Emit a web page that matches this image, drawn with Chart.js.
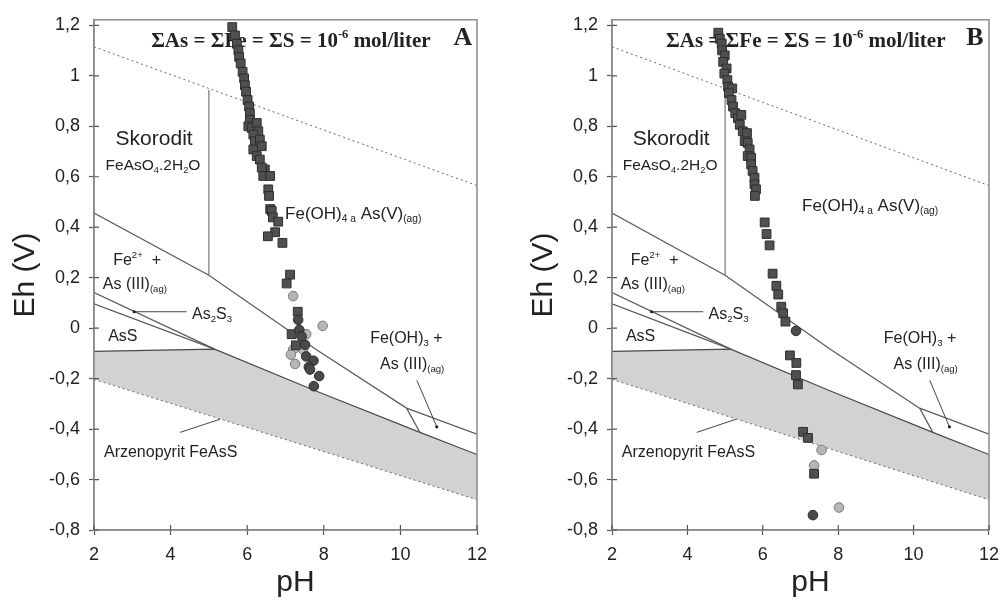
<!DOCTYPE html>
<html>
<head>
<meta charset="utf-8">
<script src="https://cdn.jsdelivr.net/npm/chart.js@4.4.0/dist/chart.umd.min.js"></script>
<style>
  html, body { margin: 0; padding: 0; background: #fff; overflow: hidden; }
  .panel { position: absolute; top: 0; height: 601px; }
  #wrapA { left: 0; width: 500px; }
  #wrapB { left: 518px; width: 490px; }
</style>
</head>
<body>
<div class="panel" id="wrapA"><canvas id="chartA"></canvas></div>
<div class="panel" id="wrapB"><canvas id="chartB"></canvas></div>
<script>
const phTicks = [2, 4, 6, 8, 10, 12];
const ehTicks = [-0.8, -0.6, -0.4, -0.2, 0, 0.2, 0.4, 0.6, 0.8, 1, 1.2];

// field boundaries (pH / Eh in V), same in both panels
const waterTopPh = [2, 12],            waterTopEh = [1.115, 0.565];
const waterBotPh = [2, 12],            waterBotEh = [-0.203, -0.68];
const skoroditPh = [5, 5],             skoroditEh = [0.945, 0.21];
const fe2Ph = [2, 5, 7.8, 10.16],      fe2Eh = [0.456, 0.21, -0.085, -0.317];
const feOH3TopPh = [10.16, 12],        feOH3TopEh = [-0.317, -0.42];
const feOH3SidePh = [10.16, 10.51],    feOH3SideEh = [-0.317, -0.413];
const as2s3TopPh = [2, 5.15],          as2s3TopEh = [0.141, -0.083];
const as2s3BotPh = [2, 5.15],          as2s3BotEh = [0.096, -0.083];
const feassPh = [2, 5.15, 7.73, 10.51, 12];
const feassEh = [-0.092, -0.083, -0.245, -0.413, -0.501];

// leader lines of the labels
const leadAs2s3Ph = [3.05, 4.42],  leadAs2s3Eh = [0.065, 0.065];
const leadFeOH3Ph = [10.43, 10.95], leadFeOH3Eh = [-0.207, -0.391];
const leadFeassPh = [4.25, 5.29],  leadFeassEh = [-0.413, -0.361];

// measured samples, panel A
const sqA_ph = [5.61,5.68,5.73,5.77,5.79,5.83,5.88,5.92,5.94,5.97,6.01,6.05,6.07,6.07,6.03,6.12,6.25,6.29,6.16,6.20,6.33,6.16,6.38,6.25,6.33,6.46,6.38,6.42,6.60,6.55,6.57,6.60,6.64,6.67,6.81,6.73,6.54,6.92,7.12,7.03,7.32,7.16,7.27];
const sqA_eh = [1.193,1.160,1.127,1.101,1.075,1.049,1.016,0.990,0.963,0.937,0.904,0.878,0.852,0.826,0.800,0.793,0.813,0.780,0.767,0.741,0.747,0.708,0.721,0.682,0.668,0.629,0.636,0.603,0.603,0.550,0.524,0.472,0.465,0.439,0.422,0.380,0.364,0.338,0.212,0.177,0.065,-0.024,-0.068];
const darkA_ph = [7.33,7.36,7.42,7.51,7.54,7.73,7.61,7.64,7.88,7.74];
const darkA_eh = [0.033,-0.007,-0.033,-0.066,-0.112,-0.129,-0.154,-0.164,-0.190,-0.230];
const lightA_ph = [7.20,7.97,7.54,7.20,7.14,7.46,7.25];
const lightA_eh = [0.127,0.009,-0.024,-0.085,-0.105,-0.085,-0.142];

// measured samples, panel B
const sqB_ph = [4.82,4.86,4.91,4.92,4.99,4.95,5.04,4.98,5.06,5.08,5.19,5.10,5.17,5.21,5.27,5.34,5.43,5.39,5.47,5.58,5.52,5.60,5.65,5.60,5.69,5.69,5.73,5.78,5.78,5.82,5.79,6.05,6.10,6.18,6.26,6.36,6.41,6.49,6.54,6.60,6.72,6.89,6.88,6.93,7.07,7.20,7.36];
const sqB_eh = [1.171,1.147,1.128,1.101,1.081,1.055,1.029,1.009,0.983,0.957,0.950,0.931,0.904,0.878,0.852,0.832,0.845,0.806,0.780,0.773,0.741,0.734,0.708,0.682,0.675,0.649,0.623,0.596,0.570,0.550,0.524,0.419,0.373,0.328,0.216,0.168,0.133,0.085,0.059,0.026,-0.108,-0.138,-0.186,-0.223,-0.411,-0.435,-0.577];
const darkB_ph = [6.88, 7.33];
const darkB_eh = [-0.011, -0.741];
const lightB_ph = [7.56, 7.36, 8.02];
const lightB_eh = [-0.483, -0.544, -0.711];

const SANS = "'Liberation Sans', Arial, sans-serif";
const SERIF = "'Liberation Serif', 'Times New Roman', serif";
const INK = "#222";

function pts(ph, eh) { return ph.map((p, i) => ({ x: p, y: eh[i] })) }

function fmt(v) { return String(Math.round(v * 10) / 10).replace(".", ",") }

function edge(ph, eh, extra) {
  return Object.assign({
    data: pts(ph, eh), showLine: true, pointRadius: 0, borderColor: "#5a5a5a",
    borderWidth: 1.2, fill: false, order: 5
  }, extra || {});
}

function marks(ph, eh, style, radius, bg, border, order) {
  return {
    data: pts(ph, eh), showLine: false, pointStyle: style, pointRadius: radius,
    backgroundColor: bg, borderColor: border, pointBorderWidth: 1, order
  };
}

function drawRich(ctx, x, y, parts, size, family, weight, align) {
  const fontOf = s => `${weight} ${s}px ${family}`;
  let w = 0;
  const segs = parts.map(([t, m]) => {
    const s = m ? size * 0.6 : size;
    ctx.font = fontOf(s);
    const sw = ctx.measureText(t).width;
    w += sw;
    return { t, m, s, sw };
  });
  let cx = align === "center" ? x - w / 2 : x;
  ctx.textAlign = "left";
  ctx.textBaseline = "middle";
  segs.forEach(sg => {
    ctx.font = fontOf(sg.s);
    const dy = sg.m < 0 ? size * 0.28 : (sg.m > 0 ? -size * 0.3 : 0);
    ctx.fillText(sg.t, cx, y + dy);
    cx += sg.sw;
  });
}

function labelsPlugin(items) {
  return {
    id: "fieldLabels",
    beforeDatasetsDraw(chart) {
      const { ctx, chartArea: a, scales: { x, y } } = chart;
      ctx.save();
      ctx.fillStyle = INK;
      items.forEach(it => drawRich(ctx, x.getPixelForValue(it.ph), y.getPixelForValue(it.eh),
        it.parts, it.size, it.serif ? SERIF : SANS, it.serif ? "bold" : "normal", it.align || "left"));
      ctx.font = `30px ${SANS}`;
      ctx.textAlign = "center";
      ctx.textBaseline = "middle";
      ctx.fillText("pH", (a.left + a.right) / 2 + 10, 583);
      ctx.restore();
    }
  };
}

const framePlugin = {
  id: "frame",
  afterDatasetsDraw(chart) {
    const { ctx, chartArea: a, scales: { x, y } } = chart;
    ctx.save();
    ctx.strokeStyle = "#8a8a8a";
    ctx.lineWidth = 1.5;
    ctx.strokeRect(a.left, a.top, a.right - a.left, a.bottom - a.top);
    ctx.strokeStyle = "#555";
    ctx.lineWidth = 1.2;
    ctx.beginPath();
    x.ticks.forEach(t => { const p = x.getPixelForValue(t.value); ctx.moveTo(p, a.bottom); ctx.lineTo(p, a.bottom - 5) });
    y.ticks.forEach(t => { const p = y.getPixelForValue(t.value); ctx.moveTo(a.left, p); ctx.lineTo(a.left + 5, p) });
    ctx.stroke();
    ctx.restore();
  }
};

function commonLabels(feOH4) {
  return [
    { ph: 3.57, eh: 0.749, size: 21, align: "center", parts: [["Skorodit", 0]] },
    { ph: 3.54, eh: 0.642, size: 15.5, align: "center", parts: [["FeAsO", 0], ["4", -1], [".2H", 0], ["2", -1], ["O", 0]] },
    { ph: feOH4[0], eh: feOH4[1], size: 17, parts: [["Fe(OH)", 0], ["4 a", -1], [" As(V)", 0], ["(ag)", -1]] },
    { ph: 2.50, eh: 0.269, size: 16, parts: [["Fe", 0], ["2+", 1], ["  +", 0]] },
    { ph: 2.23, eh: 0.172, size: 16, parts: [["As (III)", 0], ["(ag)", -1]] },
    { ph: 4.56, eh: 0.054, size: 16, parts: [["As", 0], ["2", -1], ["S", 0], ["3", -1]] },
    { ph: 2.37, eh: -0.033, size: 16, parts: [["AsS", 0]] },
    { ph: 9.21, eh: -0.041, size: 16, parts: [["Fe(OH)", 0], ["3", -1], [" +", 0]] },
    { ph: 9.47, eh: -0.144, size: 16, parts: [["As (III)", 0], ["(ag)", -1]] },
    { ph: 2.26, eh: -0.494, size: 16, parts: [["Arzenopyrit FeAsS", 0]] },
    { ph: 7.14, eh: 1.137, size: 21, serif: true, align: "center", parts: [["ΣAs = ΣFe = ΣS = 10", 0], ["-6", 1], [" mol/liter", 0]] }
  ];
}

function buildPanel(canvasId, padRight, letter, sq, dark, light, feOH4) {
  const datasets = [
    marks(dark[0], dark[1], "circle", 4.8, "#4a4a4a", "#2a2a2a", 0),
    marks(sq[0], sq[1], "rect", 6.2, "#505050", "#2e2e2e", 1),
    marks(light[0], light[1], "circle", 4.8, "#b6b6b6", "#7a7a7a", 2),
    edge(leadAs2s3Ph, leadAs2s3Eh, { pointRadius: [1.6, 0], pointBackgroundColor: INK, pointBorderWidth: 0, borderColor: "#444", borderWidth: 1 }),
    edge(leadFeOH3Ph, leadFeOH3Eh, { pointRadius: [0, 1.6], pointBackgroundColor: INK, pointBorderWidth: 0, borderColor: "#444", borderWidth: 1 }),
    edge(leadFeassPh, leadFeassEh, { borderColor: "#444", borderWidth: 1 }),
    edge(skoroditPh, skoroditEh, { borderColor: "#777" }),
    edge(fe2Ph, fe2Eh),
    edge(feOH3TopPh, feOH3TopEh),
    edge(feOH3SidePh, feOH3SideEh),
    edge(as2s3TopPh, as2s3TopEh),
    edge(as2s3BotPh, as2s3BotEh),
    edge(waterTopPh, waterTopEh, { borderDash: [2, 3], borderWidth: 1, borderColor: "#666" })
  ];
  const botIndex = datasets.length + 1;
  datasets.push(edge(feassPh, feassEh, { fill: { target: botIndex }, backgroundColor: "#d2d2d2", order: 8, borderColor: "#4a4a4a" }));
  datasets.push(edge(waterBotPh, waterBotEh, { borderDash: [2, 3], borderWidth: 1, borderColor: "#666", order: 6 }));

  const items = commonLabels(feOH4);
  items.push({ ph: 11.63, eh: 1.147, size: 26, serif: true, align: "center", parts: [[letter, 0]] });

  const tickFont = { family: SANS, size: 18 };
  return new Chart(document.getElementById(canvasId), {
    type: "line",
    data: { datasets },
    options: {
      responsive: true,
      maintainAspectRatio: false,
      animation: false,
      events: [],
      layout: { padding: { top: 16, right: padRight, bottom: 0, left: 0 } },
      plugins: { legend: { display: false }, tooltip: { enabled: false } },
      scales: {
        x: {
          type: "linear", min: 2, max: 12,
          afterBuildTicks: s => { s.ticks = phTicks.map(v => ({ value: v })) },
          afterFit: s => { s.height = 71 },
          grid: { drawOnChartArea: false, tickLength: 5, tickColor: "#555", tickWidth: 1.2 },
          border: { color: "#8a8a8a", width: 1.5 },
          ticks: { color: INK, font: tickFont, padding: 9, maxRotation: 0, callback: v => fmt(v) }
        },
        y: {
          type: "linear", min: -0.8, max: 1.222,
          afterBuildTicks: s => { s.ticks = ehTicks.map(v => ({ value: v })) },
          afterFit: s => { s.width = 94 },
          grid: { drawOnChartArea: false, tickLength: 5, tickColor: "#555", tickWidth: 1.2 },
          border: { color: "#8a8a8a", width: 1.5 },
          ticks: { color: INK, font: tickFont, padding: 9, callback: v => fmt(v) },
          title: { display: true, text: "Eh (V)", color: INK, font: { family: SANS, size: 30 }, padding: { top: 8, bottom: 0 } }
        }
      }
    },
    plugins: [labelsPlugin(items), framePlugin]
  });
}

buildPanel("chartA", 23, "A", [sqA_ph, sqA_eh], [darkA_ph, darkA_eh], [lightA_ph, lightA_eh], [6.99, 0.452]);
buildPanel("chartB", 13, "B", [sqB_ph, sqB_eh], [darkB_ph, darkB_eh], [lightB_ph, lightB_eh], [7.04, 0.482]);
</script>
</body>
</html>
